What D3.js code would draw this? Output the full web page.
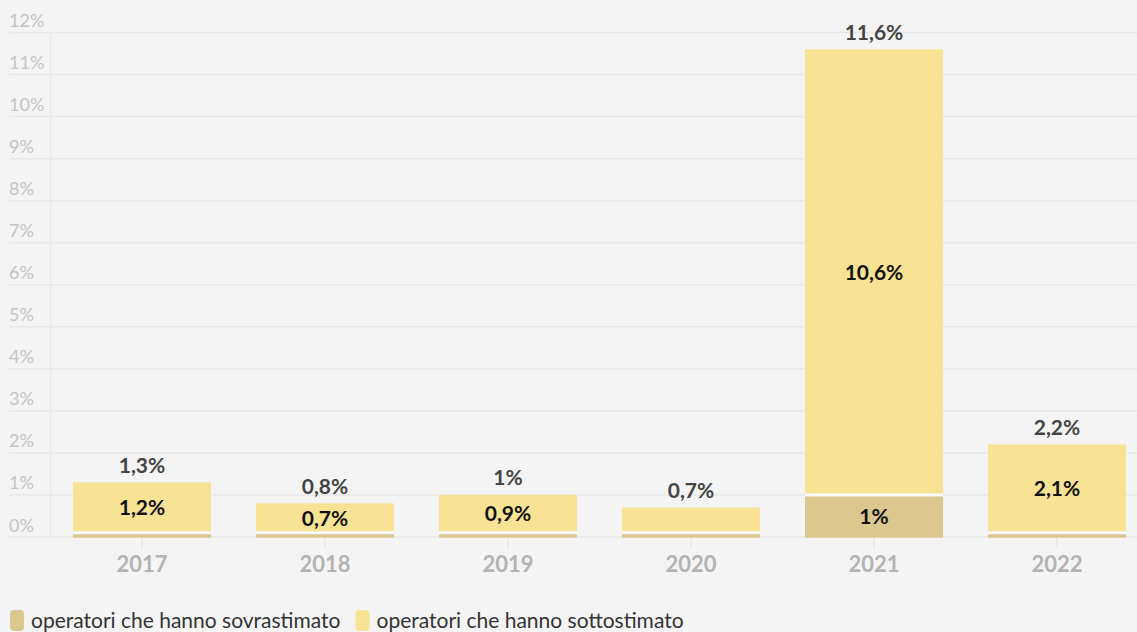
<!DOCTYPE html>
<html>
<head>
<meta charset="utf-8">
<script src="https://cdn.jsdelivr.net/npm/d3@7"></script>
<style>
  body { margin: 0; background: #f4f4f4; }
  svg { display: block; font-family: Lato, "Open Sans", sans-serif; }
</style>
</head>
<body>
<svg id="chart" width="1137" height="632"></svg>
<script>
// data
var years = ["2017", "2018", "2019", "2020", "2021", "2022"];
var sovrastimato = [0.1, 0.1, 0.1, 0.1, 1.0, 0.1];
var sottostimato = [1.2, 0.7, 0.9, 0.6, 10.6, 2.1];
var totali = [1.3, 0.8, 1.0, 0.7, 11.6, 2.2];
var yTicks = [0, 1, 2, 3, 4, 5, 6, 7, 8, 9, 10, 11, 12];
var seriesNames = ["operatori che hanno sovrastimato", "operatori che hanno sottostimato"];
var seriesColors = ["#dcc88f", "#f7e393"];

var fmt = function(v) { return String(+v.toFixed(1)).replace(".", ",") + "%"; };

var svg = d3.select("#chart");

var x = d3.scaleBand()
    .domain(years)
    .range([50.5, 1148.5])
    .paddingInner(0.246)
    .paddingOuter(0.123);

var y = d3.scaleLinear()
    .domain([0, 12])
    .range([537, 32.5]);

// grid
var grid = svg.append("g");
grid.selectAll("line")
    .data(yTicks)
    .enter().append("line")
      .attr("x1", 9)
      .attr("x2", 1137)
      .attr("y1", function(d) { return y(d); })
      .attr("y2", function(d) { return y(d); })
      .attr("stroke", "#e8e8e8")
      .attr("stroke-width", 1.5);

svg.append("line")
    .attr("x1", 50.5).attr("x2", 50.5)
    .attr("y1", y(12) + 1).attr("y2", y(0))
    .attr("stroke", "#e8e8e8")
    .attr("stroke-width", 1.5);

grid.selectAll("text")
    .data(yTicks)
    .enter().append("text")
      .attr("x", 9)
      .attr("y", function(d) { return y(d) - 5.5; })
      .attr("fill", "#c4c4c4")
      .attr("font-size", 18)
      .text(function(d) { return d + "%"; });

// x axis
var xAxis = svg.append("g")
    .attr("transform", "translate(0," + y(0) + ")")
    .call(d3.axisBottom(x).tickSize(11).tickPadding(8));
xAxis.select(".domain").remove();
xAxis.selectAll(".tick line").attr("stroke", "#e6e6e6").attr("stroke-width", 1.5);
xAxis.selectAll(".tick text")
    .attr("fill", "#b3b3b3")
    .attr("font-size", 22)
    .attr("font-weight", "bold")
    .attr("font-family", "Lato, 'Open Sans', sans-serif");

// bars
var rows = years.map(function(yr, i) {
  return { year: yr, a: sovrastimato[i], b: sottostimato[i], total: totali[i] };
});

var bars = svg.append("g").selectAll("g")
    .data(rows)
    .enter().append("g");

// lower segment (sovrastimato)
bars.append("rect")
    .attr("x", function(d) { return x(d.year); })
    .attr("width", x.bandwidth())
    .attr("y", function(d) { return y(d.a) + 1.3; })
    .attr("height", function(d) { return y(0) + 0.7 - y(d.a) - 1.3; })
    .attr("fill", seriesColors[0]);

// upper segment (sottostimato)
bars.append("rect")
    .attr("x", function(d) { return x(d.year); })
    .attr("width", x.bandwidth())
    .attr("y", function(d) { return y(d.a + d.b); })
    .attr("height", function(d) { return y(d.a) - 1.3 - y(d.a + d.b); })
    .attr("fill", seriesColors[1]);

// white separator
bars.append("rect")
    .attr("x", function(d) { return x(d.year); })
    .attr("width", x.bandwidth())
    .attr("y", function(d) { return y(d.a) - 1.3; })
    .attr("height", 2.6)
    .attr("fill", "#fbfbfb");

// inner labels
bars.filter(function(d) { return y(d.a) - y(d.a + d.b) >= 26; })
  .append("text")
    .attr("x", function(d) { return x(d.year) + x.bandwidth() / 2; })
    .attr("y", function(d) { return (y(d.a) + y(d.a + d.b)) / 2; })
    .attr("dy", "0.36em")
    .attr("text-anchor", "middle")
    .attr("font-size", 21)
    .attr("font-weight", "bold")
    .attr("fill", "#111")
    .text(function(d) { return fmt(d.b); });

bars.filter(function(d) { return y(0) - y(d.a) >= 26; })
  .append("text")
    .attr("x", function(d) { return x(d.year) + x.bandwidth() / 2; })
    .attr("y", function(d) { return (y(0) + y(d.a)) / 2; })
    .attr("dy", "0.36em")
    .attr("text-anchor", "middle")
    .attr("font-size", 21)
    .attr("font-weight", "bold")
    .attr("fill", "#111")
    .text(function(d) { return fmt(d.a); });

// total labels
bars.append("text")
    .attr("x", function(d) { return x(d.year) + x.bandwidth() / 2; })
    .attr("y", function(d) { return y(d.total) - 9.5; })
    .attr("text-anchor", "middle")
    .attr("font-size", 21)
    .attr("font-weight", "bold")
    .attr("fill", "#444")
    .text(function(d) { return fmt(d.total); });

// legend
var legend = svg.append("g").attr("transform", "translate(10,610)");
var lx = 0;
seriesNames.forEach(function(name, i) {
  var item = legend.append("g").attr("transform", "translate(" + lx + ",0)");
  item.append("rect")
      .attr("width", 14).attr("height", 21).attr("rx", 4)
      .attr("fill", seriesColors[i]);
  var t = item.append("text")
      .attr("x", 21).attr("y", 18)
      .attr("font-size", 21)
      .attr("fill", "#333")
      .text(name);
  lx += 21 + t.node().getComputedTextLength() + 15;
});
</script>
</body>
</html>
